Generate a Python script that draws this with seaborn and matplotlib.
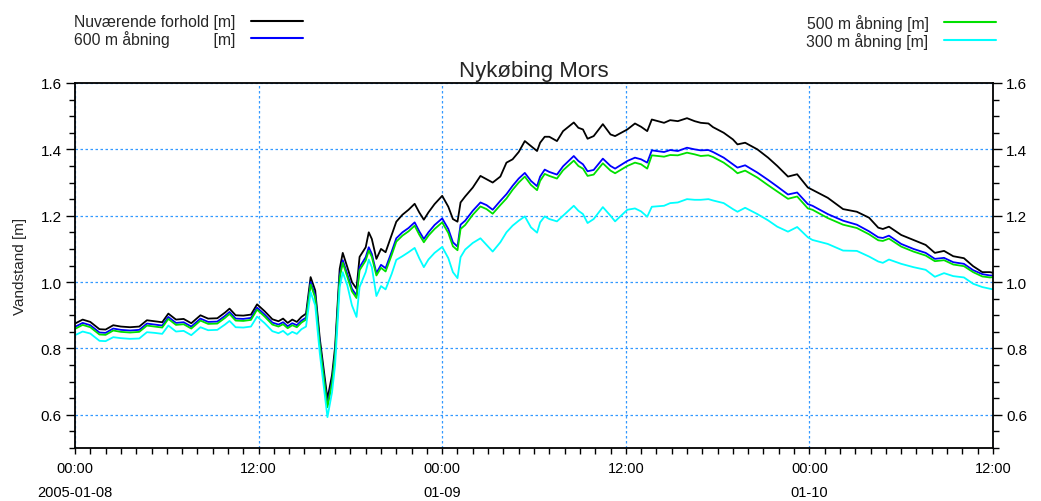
import numpy as np
import pandas as pd
import matplotlib
matplotlib.use("Agg")
import matplotlib.pyplot as plt
import matplotlib.dates as mdates
from matplotlib.ticker import MultipleLocator, FuncFormatter
import seaborn as sns

# ---------------- data (hours after 2005-01-08 00:00) ----------------
hours = [0.0, 0.5, 1.0, 1.6, 2.0, 2.5, 3.0, 3.6, 4.2, 4.7, 5.2, 5.7, 6.1, 6.6, 7.1, 7.6,
         8.2, 8.7, 9.3, 9.8, 10.1, 10.5, 11.0, 11.5, 11.9, 12.4, 12.9, 13.3, 13.6, 13.9,
         14.2, 14.5, 14.8, 15.1, 15.4, 15.7, 16.0, 16.5, 16.8, 17.0, 17.3, 17.5, 17.8,
         18.1, 18.4, 18.6, 19.0, 19.2, 19.4, 19.7, 20.0, 20.3, 20.7, 21.0, 21.4, 21.8,
         22.2, 22.5, 22.8, 23.1, 23.5, 24.0, 24.4, 24.7, 25.0, 25.2, 25.5, 26.0, 26.5,
         26.9, 27.3, 27.8, 28.2, 28.6, 29.0, 29.4, 29.8, 30.2, 30.4, 30.7, 31.0, 31.5,
         31.9, 32.6, 32.9, 33.2, 33.5, 33.9, 34.5, 35.0, 35.3, 36.1, 36.6, 37.0, 37.4,
         37.7, 38.5, 38.9, 39.4, 40.0, 40.5, 40.9, 41.4, 41.7, 42.4, 43.0, 43.3, 43.8,
         44.6, 45.3, 45.9, 46.6, 47.2, 47.9, 48.2, 49.2, 50.2, 51.1, 51.9, 52.5, 52.8,
         53.2, 54.0, 54.8, 55.6, 56.2, 56.8, 57.4, 58.1, 58.7, 59.3, 59.8, 60.0]

nuvaerende = [0.875, 0.887, 0.880, 0.858, 0.857, 0.870, 0.866, 0.864, 0.866, 0.885, 0.882, 0.879,
              0.905, 0.887, 0.889, 0.876, 0.900, 0.890, 0.891, 0.908, 0.920, 0.900, 0.899, 0.902,
              0.933, 0.912, 0.888, 0.882, 0.890, 0.877, 0.887, 0.880, 0.895, 0.905, 1.015, 0.975,
              0.830, 0.648, 0.720, 0.805, 1.040, 1.088, 1.045, 1.000, 0.980, 1.076, 1.105, 1.150,
              1.130, 1.070, 1.100, 1.090, 1.142, 1.182, 1.203, 1.218, 1.236, 1.210, 1.188, 1.210,
              1.235, 1.260, 1.227, 1.190, 1.182, 1.240, 1.258, 1.285, 1.320, 1.310, 1.300, 1.318,
              1.360, 1.370, 1.392, 1.425, 1.410, 1.395, 1.420, 1.438, 1.438, 1.425, 1.455, 1.481,
              1.465, 1.460, 1.432, 1.440, 1.476, 1.445, 1.440, 1.460, 1.478, 1.468, 1.455, 1.490,
              1.480, 1.488, 1.485, 1.494, 1.485, 1.480, 1.478, 1.467, 1.450, 1.430, 1.415, 1.420,
              1.400, 1.375, 1.350, 1.318, 1.325, 1.285, 1.278, 1.254, 1.220, 1.212, 1.194, 1.164,
              1.160, 1.167, 1.142, 1.127, 1.112, 1.088, 1.094, 1.078, 1.072, 1.048, 1.030, 1.030,
              1.028]

aabning_600 = [0.865, 0.877, 0.870, 0.848, 0.847, 0.860, 0.856, 0.854, 0.856, 0.875, 0.872, 0.869,
               0.895, 0.877, 0.879, 0.866, 0.890, 0.880, 0.881, 0.898, 0.910, 0.890, 0.889, 0.892,
               0.923, 0.902, 0.878, 0.872, 0.879, 0.867, 0.876, 0.870, 0.884, 0.893, 1.000, 0.960,
               0.815, 0.630, 0.702, 0.786, 1.020, 1.066, 1.024, 0.980, 0.960, 1.045, 1.075, 1.105,
               1.085, 1.027, 1.052, 1.042, 1.092, 1.132, 1.150, 1.163, 1.180, 1.153, 1.130, 1.150,
               1.172, 1.192, 1.160, 1.120, 1.107, 1.173, 1.185, 1.215, 1.240, 1.232, 1.218, 1.245,
               1.265, 1.290, 1.312, 1.329, 1.305, 1.289, 1.318, 1.339, 1.332, 1.324, 1.349, 1.380,
               1.365, 1.355, 1.334, 1.338, 1.372, 1.350, 1.342, 1.365, 1.375, 1.370, 1.360, 1.397,
               1.392, 1.398, 1.395, 1.405, 1.400, 1.397, 1.398, 1.392, 1.375, 1.355, 1.345, 1.352,
               1.330, 1.308, 1.288, 1.264, 1.270, 1.235, 1.230, 1.205, 1.185, 1.173, 1.153, 1.135,
               1.133, 1.140, 1.115, 1.100, 1.088, 1.070, 1.073, 1.060, 1.055, 1.036, 1.024, 1.020,
               1.020]

aabning_500 = [0.859, 0.871, 0.864, 0.842, 0.841, 0.854, 0.850, 0.848, 0.850, 0.869, 0.866, 0.863,
               0.889, 0.871, 0.873, 0.860, 0.884, 0.874, 0.875, 0.892, 0.904, 0.884, 0.883, 0.886,
               0.917, 0.896, 0.872, 0.866, 0.873, 0.861, 0.870, 0.864, 0.878, 0.887, 0.993, 0.953,
               0.808, 0.623, 0.695, 0.779, 1.013, 1.058, 1.016, 0.972, 0.952, 1.036, 1.065, 1.095,
               1.076, 1.020, 1.043, 1.032, 1.082, 1.122, 1.140, 1.153, 1.170, 1.143, 1.120, 1.140,
               1.160, 1.180, 1.148, 1.108, 1.096, 1.160, 1.172, 1.203, 1.228, 1.220, 1.206, 1.232,
               1.252, 1.278, 1.300, 1.318, 1.293, 1.277, 1.305, 1.326, 1.320, 1.312, 1.337, 1.366,
               1.350, 1.342, 1.320, 1.324, 1.358, 1.336, 1.328, 1.350, 1.360, 1.355, 1.342, 1.382,
               1.378, 1.383, 1.382, 1.390, 1.385, 1.380, 1.382, 1.377, 1.360, 1.340, 1.328, 1.336,
               1.315, 1.292, 1.273, 1.251, 1.258, 1.222, 1.218, 1.193, 1.173, 1.163, 1.144, 1.126,
               1.124, 1.131, 1.107, 1.092, 1.080, 1.063, 1.066, 1.053, 1.048, 1.030, 1.017, 1.014,
               1.015]

aabning_300 = [0.840, 0.851, 0.845, 0.823, 0.822, 0.834, 0.831, 0.829, 0.830, 0.849, 0.847, 0.844,
               0.869, 0.851, 0.853, 0.840, 0.864, 0.855, 0.856, 0.872, 0.883, 0.864, 0.863, 0.866,
               0.896, 0.876, 0.852, 0.846, 0.853, 0.841, 0.850, 0.844, 0.858, 0.866, 0.970, 0.930,
               0.785, 0.593, 0.668, 0.750, 0.985, 1.030, 0.990, 0.930, 0.895, 0.985, 1.030, 1.068,
               1.045, 0.958, 0.988, 0.978, 1.025, 1.067, 1.078, 1.090, 1.103, 1.072, 1.045, 1.068,
               1.088, 1.106, 1.072, 1.030, 1.012, 1.075, 1.098, 1.118, 1.132, 1.112, 1.092, 1.120,
               1.150, 1.170, 1.185, 1.198, 1.165, 1.149, 1.180, 1.198, 1.190, 1.183, 1.200, 1.230,
               1.215, 1.205, 1.178, 1.190, 1.226, 1.200, 1.183, 1.218, 1.222, 1.213, 1.197, 1.227,
               1.230, 1.238, 1.240, 1.250, 1.248, 1.248, 1.250, 1.246, 1.238, 1.220, 1.212, 1.224,
               1.205, 1.186, 1.167, 1.152, 1.166, 1.135, 1.127, 1.115, 1.095, 1.094, 1.077, 1.062,
               1.058, 1.068, 1.055, 1.045, 1.037, 1.016, 1.027, 1.018, 1.014, 0.995, 0.985, 0.980,
               0.978]

series_labels = ["Nuværende forhold [m]", "600 m åbning [m]", "500 m åbning [m]", "300 m åbning [m]"]
series_values = [nuvaerende, aabning_600, aabning_500, aabning_300]
series_colors = ["#000000", "#0000ff", "#00e000", "#00ffff"]
title = "Nykøbing Mors"
ylabel = "Vandstand [m]"
start = pd.Timestamp("2005-01-08 00:00")

times = start + pd.to_timedelta(hours, unit="h")
df = pd.concat([pd.DataFrame({"time": times, "value": vals, "series": lab})
                for vals, lab in zip(series_values, series_labels)], ignore_index=True)

# ---------------- figure ----------------
sns.set_theme(style="white")
plt.rcParams["font.family"] = ["Liberation Sans", "DejaVu Sans"]

fig = plt.figure(figsize=(10.41, 5.02), dpi=100)
ax = fig.add_axes([75/1041, 1 - 449/502, (993 - 75)/1041, (449 - 84)/502])

sns.lineplot(data=df, x="time", y="value", hue="series", hue_order=series_labels,
             palette=dict(zip(series_labels, series_colors)), estimator=None,
             linewidth=1.3, legend=False, ax=ax)

ax.set_xlim(start, start + pd.Timedelta(hours=60))
ax.set_ylim(0.5, 1.6)

# grid
ax.grid(True, which="major", color="#3399ff", linestyle=(0, (2, 2)), linewidth=0.9)
ax.set_axisbelow(True)

# spines
for s in ax.spines.values():
    s.set_color("black")
    s.set_linewidth(1.3)

# y ticks
ax.yaxis.set_major_locator(MultipleLocator(0.2))
ax.yaxis.set_minor_locator(MultipleLocator(0.05))
ax.yaxis.set_major_formatter(FuncFormatter(lambda v, p: f"{v:.1f}"))
ax.tick_params(axis="y", which="both", left=True, right=True, labelleft=True, labelright=True,
               direction="out", labelsize=11, colors="black")
ax.tick_params(axis="y", which="major", length=6.5, width=1, pad=3)
ax.tick_params(axis="y", which="minor", length=4.5, width=1)

# x ticks
ax.xaxis.set_major_locator(mdates.HourLocator(byhour=[0, 12]))
ax.xaxis.set_minor_locator(mdates.HourLocator())

def fmt_x(x, pos):
    d = mdates.num2date(x)
    if d.hour == 0:
        if pos == 0:
            return d.strftime("%H:%M\n%Y-%m-%d")
        return d.strftime("%H:%M\n%m-%d")
    return d.strftime("%H:%M")

ax.xaxis.set_major_formatter(FuncFormatter(fmt_x))
ax.tick_params(axis="x", which="both", bottom=True, direction="out", length=4.5, width=1,
               labelsize=10.5, colors="black", pad=5)
for lab in ax.get_xticklabels():
    lab.set_linespacing(1.9)

ax.set_xlabel("")
ax.set_ylabel(ylabel, fontsize=11, labelpad=10)
ax.set_title(title, fontsize=16, pad=5)

# legends
lines = ax.get_lines()
leg_kw = dict(frameon=False, markerfirst=False, handlelength=3.3, handletextpad=1.0,
              labelspacing=0.04, borderpad=0, borderaxespad=0, fontsize=11.3)
leg1 = fig.legend(handles=lines[:2],
                  labels=["Nuværende forhold [m]", "600 m åbning          [m]"],
                  loc="upper left", bbox_to_anchor=(74/1041, 1 - 15/502), **leg_kw)
leg2 = fig.legend(handles=lines[2:4], labels=series_labels[2:4],
                  loc="upper right", bbox_to_anchor=(996/1041, 1 - 15/502), **leg_kw)
for leg in (leg1, leg2):
    for h in leg.legend_handles:
        h.set_linewidth(1.5)

fig.savefig("out.png", dpi=100)
